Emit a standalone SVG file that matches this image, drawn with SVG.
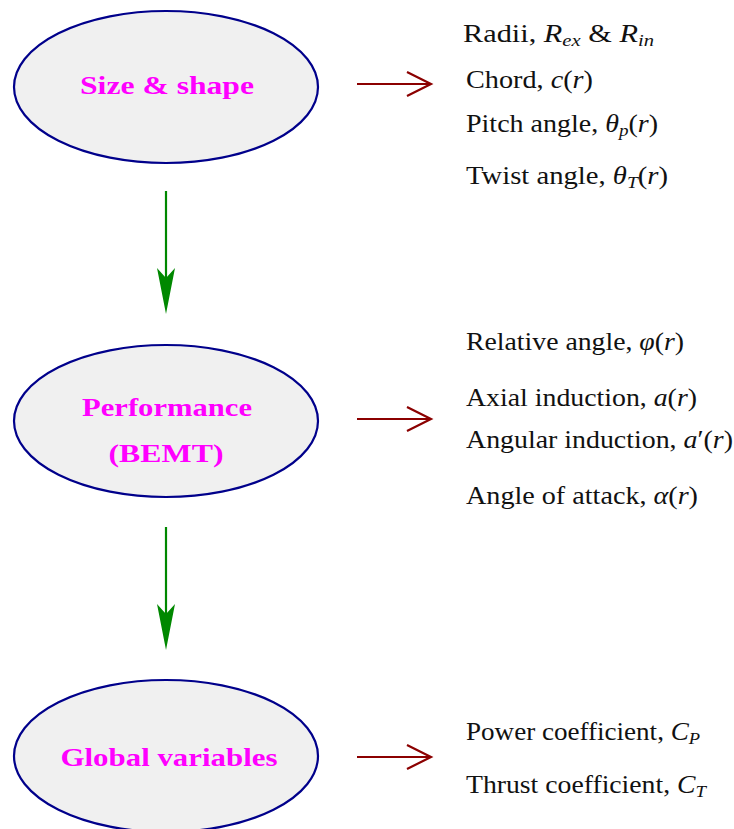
<svg xmlns="http://www.w3.org/2000/svg" width="734" height="829" viewBox="0 0 734 829">
<style>
.node ellipse{fill:#f0f0f0;stroke:#00008b;stroke-width:2.2}
.lbl{font-family:"Liberation Serif",serif;font-weight:bold;font-size:25px;fill:#ff00ff;text-anchor:middle}
.t{font-family:"Liberation Serif",serif;font-size:25px;fill:#111}
.m{font-style:italic}
.g{stroke:#008800;stroke-width:2.2;fill:none}
.r{stroke:#8b0000;stroke-width:2.2;fill:none}
</style>
<rect width="734" height="829" fill="#fff"/>
<g id="node-size" class="node">
<ellipse cx="166" cy="87" rx="152" ry="76"/>
<text class="lbl" x="167" y="94" textLength="174" lengthAdjust="spacingAndGlyphs">Size &amp; shape</text>
</g>
<g id="node-perf" class="node">
<ellipse cx="166" cy="421" rx="152" ry="76"/>
<text class="lbl" x="167" y="416" textLength="170" lengthAdjust="spacingAndGlyphs">Performance</text>
<text class="lbl" x="166" y="462" textLength="115" lengthAdjust="spacingAndGlyphs">(BEMT)</text>
</g>
<g id="node-global" class="node">
<ellipse cx="166" cy="756" rx="152" ry="76"/>
<text class="lbl" x="169" y="766" textLength="217" lengthAdjust="spacingAndGlyphs">Global variables</text>
</g>
<g id="connectors">
<line class="g" x1="166" y1="191" x2="166" y2="282"/>
<path d="M157,268 L166,278 L175,268 L166,314 Z" fill="#008800"/>
<line class="g" x1="166" y1="527" x2="166" y2="618"/>
<path d="M157,604 L166,614 L175,604 L166,650 Z" fill="#008800"/>
<path class="r" d="M357,84 H430 M407,72 L431,84 L407,96"/>
<path class="r" d="M357,419 H430 M407,407 L431,419 L407,431"/>
<path class="r" d="M357,757 H430 M407,745 L431,757 L407,769"/>
</g>
<g id="outputs">
<text class="t" x="463" y="42" textLength="191" lengthAdjust="spacingAndGlyphs">Radii, <tspan class="m">R</tspan><tspan class="m" font-size="17" dy="4">ex</tspan><tspan dy="-4"> &amp; </tspan><tspan class="m">R</tspan><tspan class="m" font-size="17" dy="4">in</tspan></text>
<text class="t" x="466" y="88" textLength="127" lengthAdjust="spacingAndGlyphs">Chord, <tspan class="m">c</tspan>(<tspan class="m">r</tspan>)</text>
<text class="t" x="466" y="132" textLength="192" lengthAdjust="spacingAndGlyphs">Pitch angle, <tspan class="m">θ</tspan><tspan class="m" font-size="17" dy="4">p</tspan><tspan dy="-4">(</tspan><tspan class="m">r</tspan>)</text>
<text class="t" x="466" y="184" textLength="202" lengthAdjust="spacingAndGlyphs">Twist angle, <tspan class="m">θ</tspan><tspan class="m" font-size="17" dy="4">T</tspan><tspan dy="-4">(</tspan><tspan class="m">r</tspan>)</text>
<text class="t" x="466" y="350" textLength="218" lengthAdjust="spacingAndGlyphs">Relative angle, <tspan class="m">φ</tspan>(<tspan class="m">r</tspan>)</text>
<text class="t" x="466" y="406" textLength="231" lengthAdjust="spacingAndGlyphs">Axial induction, <tspan class="m">a</tspan>(<tspan class="m">r</tspan>)</text>
<text class="t" x="466" y="448" textLength="267" lengthAdjust="spacingAndGlyphs">Angular induction, <tspan class="m">a</tspan>′(<tspan class="m">r</tspan>)</text>
<text class="t" x="466" y="504" textLength="232" lengthAdjust="spacingAndGlyphs">Angle of attack, <tspan class="m">α</tspan>(<tspan class="m">r</tspan>)</text>
<text class="t" x="466" y="740" textLength="234" lengthAdjust="spacingAndGlyphs">Power coefficient, <tspan class="m">C</tspan><tspan class="m" font-size="17" dy="4">P</tspan></text>
<text class="t" x="466" y="793" textLength="240" lengthAdjust="spacingAndGlyphs">Thrust coefficient, <tspan class="m">C</tspan><tspan class="m" font-size="17" dy="4">T</tspan></text>
</g>
</svg>
